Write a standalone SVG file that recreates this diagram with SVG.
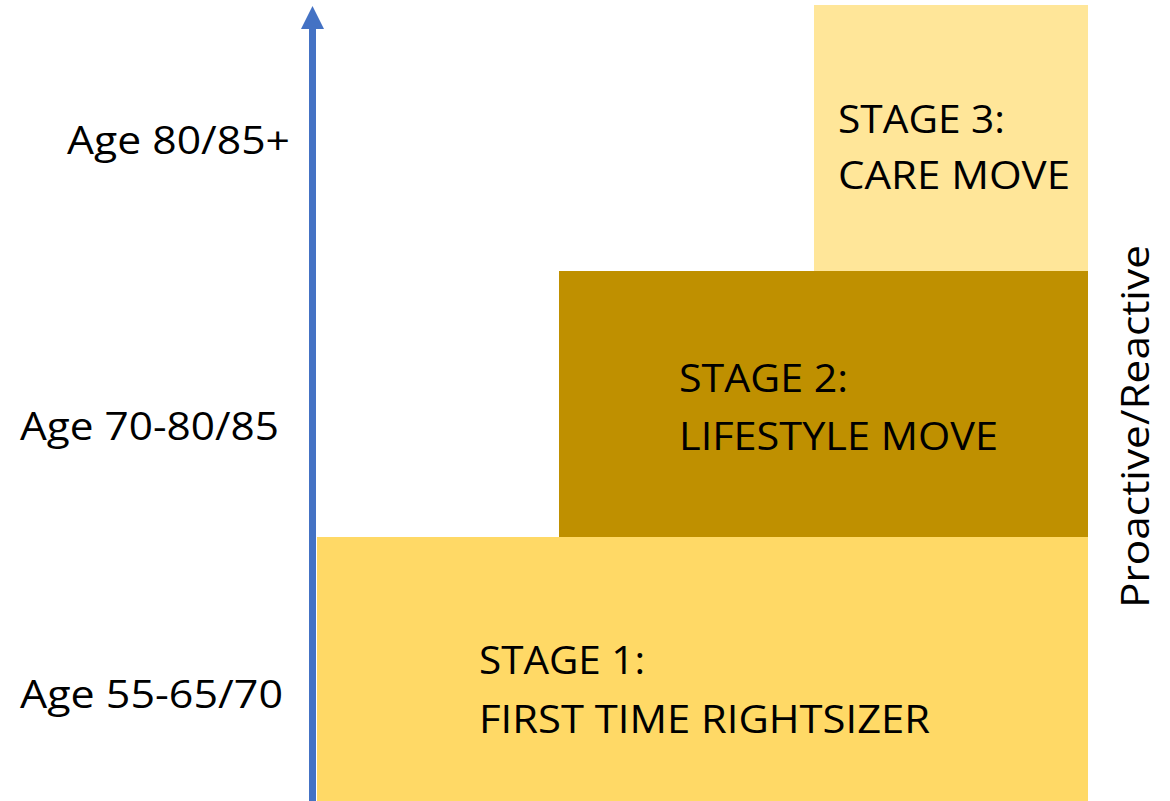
<svg xmlns="http://www.w3.org/2000/svg" width="1170" height="801" viewBox="0 0 1170 801">
  <style>
    text { font-family: "Open Sans", "Liberation Sans", sans-serif; font-size: 39px; fill: #000000; }
  </style>
  <rect width="1170" height="801" fill="#ffffff"/>
  <g id="stage1">
    <rect x="317" y="537" width="771" height="264" fill="#FFD966"/>
    <text x="479" y="674" textLength="166" lengthAdjust="spacingAndGlyphs">STAGE 1:</text>
    <text x="479" y="733" textLength="451" lengthAdjust="spacingAndGlyphs">FIRST TIME RIGHTSIZER</text>
  </g>
  <g id="stage2">
    <rect x="559" y="271" width="529" height="266" fill="#BF9000"/>
    <text x="679" y="392" textLength="169" lengthAdjust="spacingAndGlyphs">STAGE 2:</text>
    <text x="679" y="450" textLength="319" lengthAdjust="spacingAndGlyphs">LIFESTYLE MOVE</text>
  </g>
  <g id="stage3">
    <rect x="814" y="5" width="274" height="266" fill="#FFE699"/>
    <text x="838" y="133" textLength="167" lengthAdjust="spacingAndGlyphs">STAGE 3:</text>
    <text x="838" y="189" textLength="232" lengthAdjust="spacingAndGlyphs">CARE MOVE</text>
  </g>
  <g id="labels">
    <text x="67" y="154" textLength="223" lengthAdjust="spacingAndGlyphs">Age 80/85+</text>
    <text x="20" y="440" textLength="259" lengthAdjust="spacingAndGlyphs">Age 70-80/85</text>
    <text x="20" y="708" textLength="263" lengthAdjust="spacingAndGlyphs">Age 55-65/70</text>
    <text transform="translate(1149,608) rotate(-90)" x="0" y="0" textLength="363" lengthAdjust="spacingAndGlyphs">Proactive/Reactive</text>
  </g>
  <g id="connectors">
    <rect x="309" y="28" width="7" height="773" fill="#4472C4"/>
    <polygon points="312.5,6 301,29 324,29" fill="#4472C4"/>
  </g>
</svg>
